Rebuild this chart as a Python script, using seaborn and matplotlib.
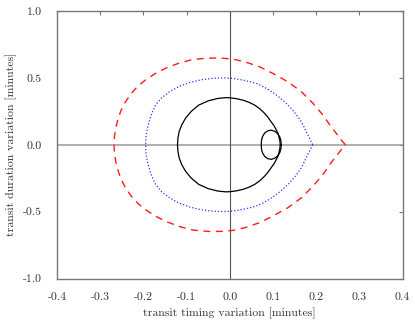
import matplotlib
matplotlib.use("Agg")
import matplotlib.pyplot as plt
import seaborn as sns
import pandas as pd

# ---- data ----
red_x = [0.268, 0.262, 0.250, 0.235, 0.216, 0.193, 0.166, 0.135, 0.100, 0.069, 0.035, 0.008,
         -0.020, -0.050, -0.085, -0.116, -0.145, -0.170, -0.193, -0.213, -0.229, -0.242, -0.252,
         -0.259, -0.264, -0.267, -0.268,
         -0.267, -0.264, -0.259, -0.252, -0.242, -0.229, -0.213, -0.193, -0.170, -0.145, -0.116,
         -0.085, -0.050, -0.020,
         0.008, 0.035, 0.069, 0.100, 0.135, 0.166, 0.193, 0.216, 0.235, 0.250, 0.262, 0.268]
red_y = [0.0, 0.021, 0.071, 0.133, 0.221, 0.309, 0.396, 0.470, 0.533, 0.583, 0.620, 0.640,
         0.648, 0.648, 0.638, 0.612, 0.577, 0.537, 0.490, 0.438, 0.380, 0.318, 0.255,
         0.190, 0.125, 0.060, 0.0,
         -0.060, -0.125, -0.190, -0.255, -0.318, -0.380, -0.438, -0.490, -0.537, -0.577, -0.612,
         -0.638, -0.648, -0.648,
         -0.640, -0.620, -0.583, -0.533, -0.470, -0.396, -0.309, -0.221, -0.133, -0.071, -0.021, 0.0]

blue_x = [0.192, 0.187, 0.183, 0.177, 0.172, 0.166, 0.157, 0.146, 0.135, 0.123, 0.108, 0.092,
          0.077, 0.062, 0.046, 0.031, 0.015, 0.0, -0.015, -0.038, -0.066, -0.093, -0.118, -0.140,
          -0.158, -0.171, -0.180, -0.186, -0.191, -0.194, -0.195,
          -0.194, -0.191, -0.186, -0.180, -0.171, -0.158, -0.140, -0.118, -0.093, -0.066, -0.038,
          -0.015, 0.0, 0.015, 0.031, 0.046, 0.062, 0.077, 0.092, 0.108, 0.123, 0.135, 0.146,
          0.157, 0.166, 0.172, 0.177, 0.183, 0.187, 0.192]
blue_y = [0.0, 0.034, 0.060, 0.096, 0.133, 0.171, 0.213, 0.258, 0.296, 0.333, 0.372, 0.408,
          0.435, 0.458, 0.472, 0.483, 0.492, 0.498, 0.500, 0.497, 0.486, 0.465, 0.435, 0.395,
          0.350, 0.300, 0.240, 0.180, 0.120, 0.060, 0.0,
          -0.060, -0.120, -0.180, -0.240, -0.300, -0.350, -0.395, -0.435, -0.465, -0.486, -0.497,
          -0.500, -0.498, -0.492, -0.483, -0.472, -0.458, -0.435, -0.408, -0.372, -0.333, -0.296,
          -0.258, -0.213, -0.171, -0.133, -0.096, -0.060, -0.034, 0.0]

outer_x = [0.117, 0.116, 0.112, 0.108, 0.103, 0.096, 0.089, 0.081, 0.070, 0.058, 0.045, 0.031,
           0.015, 0.0, -0.010, -0.028, -0.050, -0.072, -0.089, -0.102, -0.111, -0.117, -0.120,
           -0.121,
           -0.120, -0.117, -0.111, -0.102, -0.089, -0.072, -0.050, -0.028, -0.010, 0.0, 0.015,
           0.031, 0.045, 0.058, 0.070, 0.081, 0.089, 0.096, 0.103, 0.108, 0.112, 0.116, 0.117]
outer_y = [0.0, 0.030, 0.084, 0.109, 0.140, 0.171, 0.203, 0.234, 0.268, 0.296, 0.317, 0.333,
           0.345, 0.351, 0.352, 0.346, 0.328, 0.296, 0.250, 0.200, 0.150, 0.100, 0.050,
           0.0,
           -0.050, -0.100, -0.150, -0.200, -0.250, -0.296, -0.328, -0.346, -0.352, -0.351, -0.345,
           -0.333, -0.317, -0.296, -0.268, -0.234, -0.203, -0.171, -0.140, -0.109, -0.084, -0.030, 0.0]

inner_x = [0.119, 0.1185, 0.116, 0.111, 0.104, 0.096, 0.088, 0.081, 0.076, 0.0735, 0.073,
           0.0735, 0.076, 0.081, 0.088, 0.096, 0.104, 0.111, 0.116, 0.1185, 0.119]
inner_y = [0.0, 0.030, 0.058, 0.083, 0.101, 0.109, 0.104, 0.088, 0.062, 0.032, 0.0,
           -0.032, -0.062, -0.088, -0.104, -0.109, -0.101, -0.083, -0.058, -0.030, 0.0]

x_ticks = [-0.4, -0.3, -0.2, -0.1, 0.0, 0.1, 0.2, 0.3, 0.4]
x_labels = ["-0.4", "-0.3", "-0.2", "-0.1", "0.0", "0.1", "0.2", "0.3", "0.4"]
y_ticks = [-1.0, -0.5, 0.0, 0.5, 1.0]
y_labels = ["-1.0", "-0.5", "0.0", "0.5", "1.0"]

# ---- style ----
sns.set_theme(style="white")
plt.rcParams["font.family"] = ["cmr10", "DejaVu Serif"]
plt.rcParams["axes.formatter.use_mathtext"] = True
plt.rcParams["axes.unicode_minus"] = False

fig = plt.figure(figsize=(4.15, 3.27), dpi=100)
ax = fig.add_axes([57 / 415, 1 - 278.5 / 327, 345.5 / 415, 267.5 / 327])

ax.axhline(0, color="#9a9a9a", lw=1.1, zorder=1)
ax.axvline(0, color="#555555", lw=0.8, zorder=1)

def draw(xs, ys, **kw):
    df = pd.DataFrame({"x": xs, "y": ys})
    sns.lineplot(data=df, x="x", y="y", sort=False, estimator=None, ax=ax, **kw)

draw(red_x, red_y, color="#ff1a1a", lw=1.0, linestyle=(0, (5, 4)))
draw(blue_x, blue_y, color="#3030ff", lw=0.9, linestyle=(0, (1, 1.6)))
draw(outer_x, outer_y, color="black", lw=0.9)
draw(inner_x, inner_y, color="black", lw=0.9)

ax.set_xlim(-0.4, 0.4)
ax.set_ylim(-1.0, 1.0)
ax.set_xticks(x_ticks)
ax.set_xticklabels(x_labels)
ax.set_yticks(y_ticks)
ax.set_yticklabels(y_labels)
ax.set_xlabel("transit timing variation [minutes]", fontsize=8.5, labelpad=4)
ax.set_ylabel("transit duration variation [minutes]", fontsize=8.5, labelpad=4)

for s in ax.spines.values():
    s.set_color("#777777")
    s.set_linewidth(1.0)

ax.tick_params(axis="both", which="major", labelsize=8.5, colors="#777777",
               labelcolor="#333333", length=3, width=0.8, direction="out",
               top=False, right=False)
ax.tick_params(axis="x", pad=7)
ax.tick_params(axis="y", pad=8)
ax.xaxis.label.set_color("#333333")
ax.yaxis.label.set_color("#333333")

# inward ticks on top and right sides
sx = ax.secondary_xaxis("top")
sx.set_xticks(x_ticks)
sx.tick_params(direction="in", length=3, width=0.8, colors="#777777", labeltop=False)
sx.spines["top"].set_visible(False)
sy = ax.secondary_yaxis("right")
sy.set_yticks(y_ticks)
sy.tick_params(direction="in", length=3, width=0.8, colors="#777777", labelright=False)
sy.spines["right"].set_visible(False)

fig.savefig("out.png", dpi=100)
